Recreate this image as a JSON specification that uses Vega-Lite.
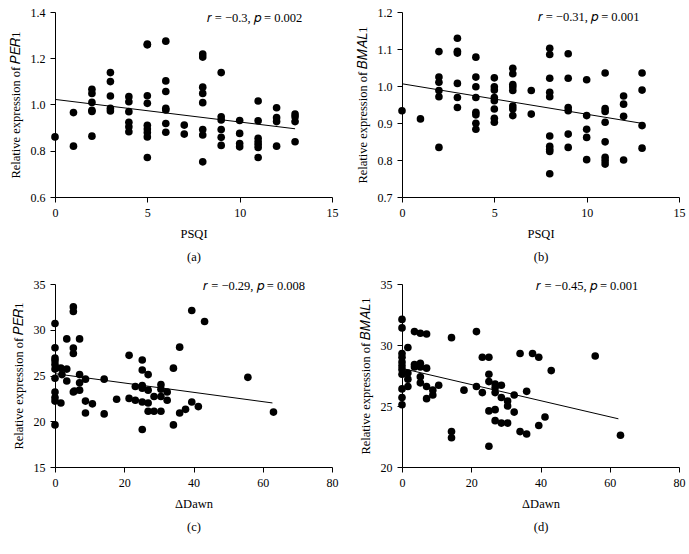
{
  "$schema": "https://vega.github.io/schema/vega-lite/v6.json",
  "background": "white",
  "padding": {"left": 9, "top": 6, "right": 2, "bottom": 2},
  "columns": 2,
  "spacing": {"column": 18, "row": 15},
  "datasets": {
    "a": [
      {"x":0,"y":0.860},
      {"x":1,"y":0.965},{"x":1,"y":0.820},
      {"x":2,"y":1.066},{"x":2,"y":1.048},{"x":2,"y":1.009},{"x":2,"y":0.975},{"x":2,"y":0.970},{"x":2,"y":0.863},
      {"x":3,"y":1.138},{"x":3,"y":1.099},{"x":3,"y":1.037},{"x":3,"y":0.983},{"x":3,"y":0.972},
      {"x":4,"y":1.034},{"x":4,"y":1.012},{"x":4,"y":0.969},{"x":4,"y":0.923},{"x":4,"y":0.904},{"x":4,"y":0.882},
      {"x":5,"y":1.261},{"x":5,"y":1.258},{"x":5,"y":1.038},{"x":5,"y":1.005},{"x":5,"y":0.910},{"x":5,"y":0.894},{"x":5,"y":0.879},{"x":5,"y":0.860},{"x":5,"y":0.771},
      {"x":6,"y":1.274},{"x":6,"y":1.102},{"x":6,"y":1.056},{"x":6,"y":0.983},{"x":6,"y":0.976},{"x":6,"y":0.918},{"x":6,"y":0.880},
      {"x":7,"y":0.911},{"x":7,"y":0.872},
      {"x":8,"y":1.218},{"x":8,"y":1.205},{"x":8,"y":1.075},{"x":8,"y":1.048},{"x":8,"y":1.008},{"x":8,"y":0.892},{"x":8,"y":0.868},{"x":8,"y":0.752},
      {"x":9,"y":1.138},{"x":9,"y":0.947},{"x":9,"y":0.933},{"x":9,"y":0.892},{"x":9,"y":0.858},{"x":9,"y":0.823},
      {"x":10,"y":0.931},{"x":10,"y":0.875},{"x":10,"y":0.831},{"x":10,"y":0.817},
      {"x":11,"y":1.015},{"x":11,"y":0.930},{"x":11,"y":0.854},{"x":11,"y":0.839},{"x":11,"y":0.827},{"x":11,"y":0.814},{"x":11,"y":0.771},
      {"x":12,"y":0.986},{"x":12,"y":0.943},{"x":12,"y":0.926},{"x":12,"y":0.820},
      {"x":13,"y":0.959},{"x":13,"y":0.947},{"x":13,"y":0.926},{"x":13,"y":0.839}
    ],
    "aFit": [{"x":0,"y":1.022},{"x":13,"y":0.895}],
    "aNote": [{"x":10.8,"y":1.372,"label":"𝑟 = −0.3, 𝑝 = 0.002"}],
    "b": [
      {"x":0,"y":0.933},
      {"x":1,"y":0.911},
      {"x":2,"y":1.093},{"x":2,"y":1.024},{"x":2,"y":1.010},{"x":2,"y":0.988},{"x":2,"y":0.971},{"x":2,"y":0.834},
      {"x":3,"y":1.129},{"x":3,"y":1.094},{"x":3,"y":1.089},{"x":3,"y":1.007},{"x":3,"y":0.969},{"x":3,"y":0.942},
      {"x":4,"y":1.078},{"x":4,"y":1.024},{"x":4,"y":0.998},{"x":4,"y":0.969},{"x":4,"y":0.929},{"x":4,"y":0.922},{"x":4,"y":0.899},{"x":4,"y":0.883},
      {"x":5,"y":1.022},{"x":5,"y":0.998},{"x":5,"y":0.989},{"x":5,"y":0.969},{"x":5,"y":0.960},{"x":5,"y":0.938},{"x":5,"y":0.913},{"x":5,"y":0.902},
      {"x":6,"y":1.048},{"x":6,"y":1.033},{"x":6,"y":1.004},{"x":6,"y":0.997},{"x":6,"y":0.988},{"x":6,"y":0.946},{"x":6,"y":0.938},{"x":6,"y":0.920},
      {"x":7,"y":0.988},{"x":7,"y":0.924},
      {"x":8,"y":1.102},{"x":8,"y":1.085},{"x":8,"y":1.021},{"x":8,"y":0.983},{"x":8,"y":0.971},{"x":8,"y":0.865},{"x":8,"y":0.837},{"x":8,"y":0.829},{"x":8,"y":0.823},{"x":8,"y":0.763},
      {"x":9,"y":1.087},{"x":9,"y":1.021},{"x":9,"y":0.942},{"x":9,"y":0.933},{"x":9,"y":0.870},{"x":9,"y":0.834},
      {"x":10,"y":1.017},{"x":10,"y":0.920},{"x":10,"y":0.883},{"x":10,"y":0.861},{"x":10,"y":0.801},
      {"x":11,"y":1.035},{"x":11,"y":0.939},{"x":11,"y":0.931},{"x":11,"y":0.902},{"x":11,"y":0.849},{"x":11,"y":0.807},{"x":11,"y":0.798},{"x":11,"y":0.789},
      {"x":12,"y":0.973},{"x":12,"y":0.951},{"x":12,"y":0.918},{"x":12,"y":0.800},
      {"x":13,"y":1.035},{"x":13,"y":0.989},{"x":13,"y":0.893},{"x":13,"y":0.832}
    ],
    "bFit": [{"x":0,"y":1.006},{"x":13,"y":0.899}],
    "bNote": [{"x":10.1,"y":1.186,"label":"𝑟 = −0.31, 𝑝 = 0.001"}],
    "c": [
      {"x":0,"y":30.68},{"x":0,"y":28.04},{"x":0,"y":26.9},{"x":0,"y":26.6},{"x":0,"y":26.2},{"x":0,"y":25.7},{"x":0,"y":24.7},{"x":0,"y":23.2},{"x":0,"y":22.6},{"x":0,"y":22.2},{"x":0,"y":19.6},
      {"x":1.7,"y":25.8},{"x":2,"y":25.1},{"x":1.7,"y":22.0},
      {"x":3.4,"y":29.0},{"x":3.4,"y":25.7},{"x":3.4,"y":24.4},
      {"x":5.3,"y":32.5},{"x":5.3,"y":32.0},{"x":5.3,"y":28.0},{"x":5.3,"y":27.4},{"x":5.3,"y":23.2},{"x":5.6,"y":23.3},
      {"x":7.1,"y":29.0},{"x":7.1,"y":25.1},{"x":7.1,"y":24.2},{"x":7.1,"y":23.4},
      {"x":8.8,"y":24.6},{"x":8.8,"y":22.2},{"x":8.8,"y":20.9},
      {"x":10.8,"y":21.9},
      {"x":14.2,"y":24.6},{"x":14.2,"y":20.8},
      {"x":17.8,"y":22.4},
      {"x":21.4,"y":27.2},{"x":21.4,"y":22.5},
      {"x":23.2,"y":23.8},{"x":23.2,"y":22.3},
      {"x":25.2,"y":26.7},{"x":25.2,"y":25.6},{"x":25.2,"y":23.9},{"x":25.2,"y":23.6},{"x":25.2,"y":22.1},{"x":25.2,"y":19.1},
      {"x":26.9,"y":25.1},{"x":26.9,"y":23.4},{"x":26.9,"y":22.0},{"x":26.9,"y":21.1},
      {"x":28.6,"y":22.7},{"x":28.6,"y":21.1},
      {"x":30.6,"y":24.0},{"x":30.6,"y":23.5},{"x":30.6,"y":22.7},{"x":30.6,"y":21.1},
      {"x":32.4,"y":23.2},{"x":32.4,"y":22.3},
      {"x":34.2,"y":25.8},{"x":34.2,"y":19.6},
      {"x":36.0,"y":28.1},{"x":36.0,"y":20.9},
      {"x":37.7,"y":21.3},
      {"x":39.5,"y":32.1},{"x":39.5,"y":22.1},
      {"x":41.4,"y":21.6},
      {"x":43.2,"y":30.9},
      {"x":55.7,"y":24.8},
      {"x":63.1,"y":21.0}
    ],
    "cFit": [{"x":0,"y":25.2},{"x":62.8,"y":22.0}],
    "cNote": [{"x":57.5,"y":34.8,"label":"𝑟 = −0.29, 𝑝 = 0.008"}],
    "d": [
      {"x":0,"y":32.1},{"x":0,"y":31.4},{"x":0,"y":29.3},{"x":0,"y":29.0},{"x":0,"y":28.6},{"x":0,"y":28.3},{"x":0,"y":28.0},{"x":0,"y":27.6},{"x":0,"y":26.4},{"x":0,"y":25.7},{"x":0,"y":25.1},
      {"x":1.7,"y":29.8},{"x":1.7,"y":27.7},{"x":1.7,"y":27.2},{"x":1.7,"y":26.6},
      {"x":3.6,"y":31.1},{"x":3.6,"y":28.4},{"x":3.6,"y":28.2},
      {"x":5.3,"y":30.96},{"x":5.3,"y":28.5},{"x":5.3,"y":28.2},{"x":5.3,"y":27.4},{"x":5.3,"y":26.9},
      {"x":7.1,"y":30.9},{"x":7.1,"y":28.1},{"x":7.1,"y":26.6},{"x":7.1,"y":25.6},
      {"x":8.9,"y":26.3},{"x":8.9,"y":25.9},
      {"x":10.6,"y":26.7},
      {"x":14.3,"y":30.6},{"x":14.3,"y":22.9},{"x":14.3,"y":22.4},
      {"x":17.9,"y":26.3},
      {"x":21.5,"y":31.1},{"x":21.5,"y":26.6},
      {"x":23.2,"y":29.0},{"x":23.2,"y":26.1},
      {"x":25.1,"y":29.0},{"x":25.1,"y":27.6},{"x":25.1,"y":27.0},{"x":25.1,"y":24.6},{"x":25.1,"y":21.7},
      {"x":26.9,"y":26.8},{"x":26.9,"y":26.5},{"x":26.9,"y":26.1},{"x":26.9,"y":24.7},{"x":26.9,"y":23.8},
      {"x":28.7,"y":26.7},{"x":28.7,"y":25.7},{"x":28.7,"y":23.6},
      {"x":30.5,"y":25.4},{"x":30.5,"y":25.0},{"x":30.5,"y":23.6},
      {"x":32.4,"y":25.9},{"x":32.4,"y":24.5},
      {"x":34.1,"y":29.3},{"x":34.1,"y":22.9},
      {"x":36.0,"y":26.2},{"x":36.0,"y":22.7},
      {"x":37.7,"y":29.3},
      {"x":39.5,"y":29.0},{"x":39.5,"y":23.4},
      {"x":41.3,"y":24.1},
      {"x":43.1,"y":27.9},
      {"x":55.8,"y":29.1},
      {"x":63.1,"y":22.6}
    ],
    "dFit": [{"x":0.5,"y":28.05},{"x":62.5,"y":23.95}],
    "dNote": [{"x":53.5,"y":34.85,"label":"𝑟 = −0.45, 𝑝 = 0.001"}]
  },
  "concat": [
    {
      "width": 277, "height": 185,
      "layer": [
        {"data": {"name": "a"}, "mark": {"type": "circle", "size": 58, "color": "black", "opacity": 1},
         "encoding": {
           "x": {"field": "x", "type": "quantitative", "scale": {"domain": [0, 15], "nice": false, "zero": false}, "axis": {"values": [0, 5, 10, 15], "title": ["PSQI", "(a)"]}},
           "y": {"field": "y", "type": "quantitative", "scale": {"domain": [0.6, 1.4], "nice": false, "zero": false}, "axis": {"values": [0.6, 0.8, 1.0, 1.2, 1.4], "format": ".1f", "title": "Relative expression of 𝑃𝐸𝑅1"}}}},
        {"data": {"name": "aFit"}, "mark": {"type": "line", "color": "black", "strokeWidth": 1},
         "encoding": {"x": {"field": "x", "type": "quantitative"}, "y": {"field": "y", "type": "quantitative"}}},
        {"data": {"name": "aNote"}, "mark": {"type": "text", "font": "Liberation Serif", "fontSize": 12.5, "align": "center", "baseline": "middle"},
         "encoding": {"x": {"field": "x", "type": "quantitative"}, "y": {"field": "y", "type": "quantitative"}, "text": {"field": "label"}}}
      ]
    },
    {
      "width": 277, "height": 185,
      "layer": [
        {"data": {"name": "b"}, "mark": {"type": "circle", "size": 58, "color": "black", "opacity": 1},
         "encoding": {
           "x": {"field": "x", "type": "quantitative", "scale": {"domain": [0, 15], "nice": false, "zero": false}, "axis": {"values": [0, 5, 10, 15], "title": ["PSQI", "(b)"]}},
           "y": {"field": "y", "type": "quantitative", "scale": {"domain": [0.7, 1.2], "nice": false, "zero": false}, "axis": {"values": [0.7, 0.8, 0.9, 1.0, 1.1, 1.2], "format": ".1f", "title": "Relative expression of 𝐵𝑀𝐴𝐿1"}}}},
        {"data": {"name": "bFit"}, "mark": {"type": "line", "color": "black", "strokeWidth": 1},
         "encoding": {"x": {"field": "x", "type": "quantitative"}, "y": {"field": "y", "type": "quantitative"}}},
        {"data": {"name": "bNote"}, "mark": {"type": "text", "font": "Liberation Serif", "fontSize": 12.5, "align": "center", "baseline": "middle"},
         "encoding": {"x": {"field": "x", "type": "quantitative"}, "y": {"field": "y", "type": "quantitative"}, "text": {"field": "label"}}}
      ]
    },
    {
      "width": 277, "height": 183,
      "layer": [
        {"data": {"name": "c"}, "mark": {"type": "circle", "size": 58, "color": "black", "opacity": 1},
         "encoding": {
           "x": {"field": "x", "type": "quantitative", "scale": {"domain": [0, 80], "nice": false, "zero": false}, "axis": {"values": [0, 20, 40, 60, 80], "title": ["ΔDawn", "(c)"]}},
           "y": {"field": "y", "type": "quantitative", "scale": {"domain": [15, 35], "nice": false, "zero": false}, "axis": {"values": [15, 20, 25, 30, 35], "title": "Relative expression of 𝑃𝐸𝑅1"}}}},
        {"data": {"name": "cFit"}, "mark": {"type": "line", "color": "black", "strokeWidth": 1},
         "encoding": {"x": {"field": "x", "type": "quantitative"}, "y": {"field": "y", "type": "quantitative"}}},
        {"data": {"name": "cNote"}, "mark": {"type": "text", "font": "Liberation Serif", "fontSize": 12.5, "align": "center", "baseline": "middle"},
         "encoding": {"x": {"field": "x", "type": "quantitative"}, "y": {"field": "y", "type": "quantitative"}, "text": {"field": "label"}}}
      ]
    },
    {
      "width": 277, "height": 183,
      "layer": [
        {"data": {"name": "d"}, "mark": {"type": "circle", "size": 58, "color": "black", "opacity": 1},
         "encoding": {
           "x": {"field": "x", "type": "quantitative", "scale": {"domain": [0, 80], "nice": false, "zero": false}, "axis": {"values": [0, 20, 40, 60, 80], "title": ["ΔDawn", "(d)"]}},
           "y": {"field": "y", "type": "quantitative", "scale": {"domain": [20, 35], "nice": false, "zero": false}, "axis": {"values": [20, 25, 30, 35], "title": "Relative expression of 𝐵𝑀𝐴𝐿1"}}}},
        {"data": {"name": "dFit"}, "mark": {"type": "line", "color": "black", "strokeWidth": 1},
         "encoding": {"x": {"field": "x", "type": "quantitative"}, "y": {"field": "y", "type": "quantitative"}}},
        {"data": {"name": "dNote"}, "mark": {"type": "text", "font": "Liberation Serif", "fontSize": 12.5, "align": "center", "baseline": "middle"},
         "encoding": {"x": {"field": "x", "type": "quantitative"}, "y": {"field": "y", "type": "quantitative"}, "text": {"field": "label"}}}
      ]
    }
  ],
  "config": {
    "view": {"stroke": null},
    "font": "Liberation Serif",
    "axis": {
      "grid": false,
      "domainColor": "black",
      "domainWidth": 1,
      "tickColor": "black",
      "tickSize": 5,
      "tickCount": 12,
      "labelColor": "black",
      "labelFont": "Liberation Serif",
      "labelFontSize": 12,
      "labelOverlap": false,
      "labelFlush": false,
      "labelPadding": 5,
      "titleColor": "black",
      "titleFont": "Liberation Serif",
      "titleFontSize": 12.5,
      "titleFontWeight": "normal"
    },
    "axisX": {"titleLineHeight": 23, "titlePadding": 9},
    "axisY": {"titlePadding": 8}
  }
}
